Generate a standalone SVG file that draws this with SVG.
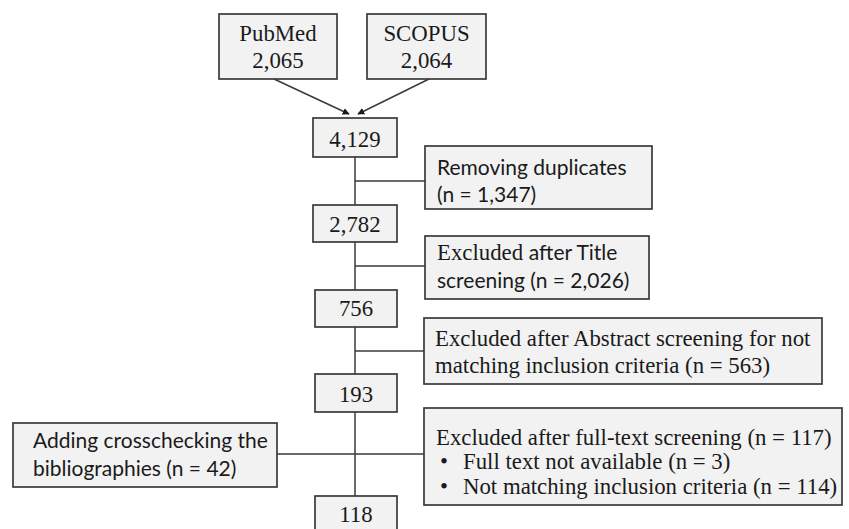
<svg xmlns="http://www.w3.org/2000/svg" width="849" height="529" viewBox="0 0 849 529">
<defs>
<style>
.box{fill:#f2f2f2;stroke:#3a3a3a;stroke-width:1.7}
.ln{fill:none;stroke:#3a3a3a;stroke-width:1.5}
.sr{font-family:"Liberation Serif","Times New Roman",serif;font-size:22.8px;fill:#1a1a1a}
.ss{font-family:Lato,"Liberation Sans",sans-serif;font-size:21px;fill:#1a1a1a}
.c{text-anchor:middle}
</style>
<marker id="ah" viewBox="0 0 10 10" refX="9" refY="5" markerWidth="7" markerHeight="7" orient="auto" markerUnits="userSpaceOnUse">
<path d="M0,0 L10,5 L0,10 z" fill="#1a1a1a"/>
</marker>
</defs>
<rect width="849" height="529" fill="#ffffff"/>
<g id="connectors">
<line class="ln" x1="274" y1="79" x2="349" y2="114" marker-end="url(#ah)"/>
<line class="ln" x1="429" y1="79" x2="358" y2="114" marker-end="url(#ah)"/>
<line class="ln" x1="355" y1="157" x2="355" y2="205"/>
<line class="ln" x1="355" y1="181" x2="425" y2="181"/>
<line class="ln" x1="355" y1="242" x2="355" y2="290"/>
<line class="ln" x1="355" y1="266" x2="425" y2="266"/>
<line class="ln" x1="355" y1="327" x2="355" y2="374"/>
<line class="ln" x1="355" y1="351" x2="424" y2="351"/>
<line class="ln" x1="355" y1="412" x2="355" y2="496"/>
<line class="ln" x1="277" y1="454" x2="424" y2="454"/>
</g>
<g id="pubmed">
<rect class="box" x="219" y="14" width="118" height="65"/>
<text class="sr c" x="278" y="41">PubMed</text>
<text class="sr c" x="278" y="68">2,065</text>
</g>
<g id="scopus">
<rect class="box" x="367" y="14" width="119" height="65"/>
<text class="sr c" x="426.5" y="41">SCOPUS</text>
<text class="sr c" x="426.5" y="68">2,064</text>
</g>
<g id="n4129">
<rect class="box" x="313" y="118" width="84" height="39"/>
<text class="sr c" x="355" y="147">4,129</text>
</g>
<g id="duplicates">
<rect class="box" x="425" y="146" width="227" height="63"/>
<text class="ss" x="437" y="175">Removing duplicates</text>
<text class="ss" x="437" y="202">(n = 1,347)</text>
</g>
<g id="n2782">
<rect class="box" x="313" y="205" width="84" height="37"/>
<text class="sr c" x="355" y="232">2,782</text>
</g>
<g id="title">
<rect class="box" x="425" y="236" width="224" height="63"/>
<text x="437" y="260"><tspan class="sr">Excluded </tspan><tspan class="ss">after Title</tspan></text>
<text class="ss" x="437" y="288">screening (n = 2,026)</text>
</g>
<g id="n756">
<rect class="box" x="315" y="290" width="82" height="37"/>
<text class="sr c" x="356" y="316">756</text>
</g>
<g id="abstract">
<rect class="box" x="424" y="318" width="398" height="66"/>
<text class="sr" x="435" y="346">Excluded after Abstract screening for not</text>
<text class="sr" x="435" y="373">matching inclusion criteria (n = 563)</text>
</g>
<g id="n193">
<rect class="box" x="315" y="374" width="82" height="38"/>
<text class="sr c" x="356" y="402">193</text>
</g>
<g id="adding">
<rect class="box" x="13" y="423" width="264" height="64"/>
<text class="ss" x="33" y="448">Adding crosschecking the</text>
<text class="ss" x="33" y="476">bibliographies (n = 42)</text>
</g>
<g id="fulltext">
<rect class="box" x="424" y="408" width="418" height="97"/>
<text class="sr" x="436" y="445">Excluded after full-text screening (n = 117)</text>
<text class="sr" x="440" y="469">•</text>
<text class="sr" x="463" y="469">Full text not available (n = 3)</text>
<text class="sr" x="440" y="494">•</text>
<text class="sr" x="463" y="494">Not matching inclusion criteria (n = 114)</text>
</g>
<g id="n118">
<rect class="box" x="315" y="496" width="82" height="44"/>
<text class="sr c" x="356" y="522">118</text>
</g>
</svg>
